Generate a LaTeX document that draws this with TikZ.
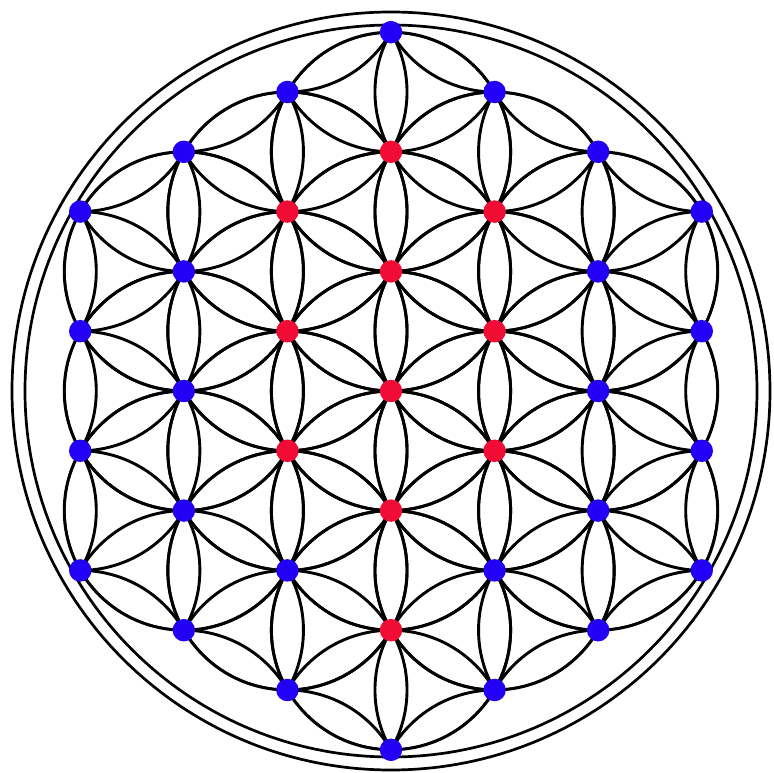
\documentclass[tikz,border=0pt]{standalone}
\definecolor{dotblue}{RGB}{35,0,245}
\definecolor{dotred}{RGB}{240,12,52}
\begin{document}
\begin{tikzpicture}[x=1pt,y=1pt,
  petal/.style={line width=2.9pt, black},
  ring/.style={line width=2.7pt, black},
  dotb/.style={circle, fill=dotblue, inner sep=0pt, minimum size=22.5pt},
  dotr/.style={circle, fill=dotred, inner sep=0pt, minimum size=22.5pt}]
\useasboundingbox (-391,-382) rectangle (382,391);
\def\rr{119.6}
\def\hh{103.58}
% lattice circles, clipped to the union of the 19 central circles
\begin{scope}
  \clip \foreach \c/\m in {0/-4,0/-2,0/0,0/2,0/4,-1/-3,-1/-1,-1/1,-1/3,1/-3,1/-1,1/1,1/3,-2/-2,-2/0,-2/2,2/-2,2/0,2/2}
    { ({\c*\hh},{-\m*\rr/2}) circle[radius=\rr] };
  \foreach \c in {-5,...,5} {
    \foreach \m in {-11,...,11} {
      \ifodd\numexpr\c+\m\relax\else
        \draw[petal] ({\c*\hh},{-\m*\rr/2}) circle[radius=\rr];
      \fi
    }
  }
\end{scope}
% the 19 central circles, unclipped
\foreach \c/\m in {0/-4,0/-2,0/0,0/2,0/4,-1/-3,-1/-1,-1/1,-1/3,1/-3,1/-1,1/1,1/3,-2/-2,-2/0,-2/2,2/-2,2/0,2/2}
  \draw[petal] ({\c*\hh},{-\m*\rr/2}) circle[radius=\rr];
% enclosing double ring
\draw[ring] (0,0) circle[radius=366];
\draw[ring] (0,0) circle[radius=379];
% red points
\foreach \c/\m [count=\i] in {0/-4,-1/-3,1/-3,0/-2,-1/-1,1/-1,0/0,-1/1,1/1,0/2,0/4}
  \node[dotr] (r\i) at ({\c*\hh},{-\m*\rr/2}) {};
% blue points
\foreach \c/\m [count=\i] in {0/-6,0/6,-1/-5,1/-5,-1/5,1/5,-2/-4,2/-4,-2/4,2/4,-3/-3,-3/-1,-3/1,-3/3,3/-3,3/-1,3/1,3/3,-2/-2,2/-2,-2/0,2/0,-2/2,2/2,-1/3,1/3}
  \node[dotb] (b\i) at ({\c*\hh},{-\m*\rr/2}) {};
\end{tikzpicture}
\end{document}
